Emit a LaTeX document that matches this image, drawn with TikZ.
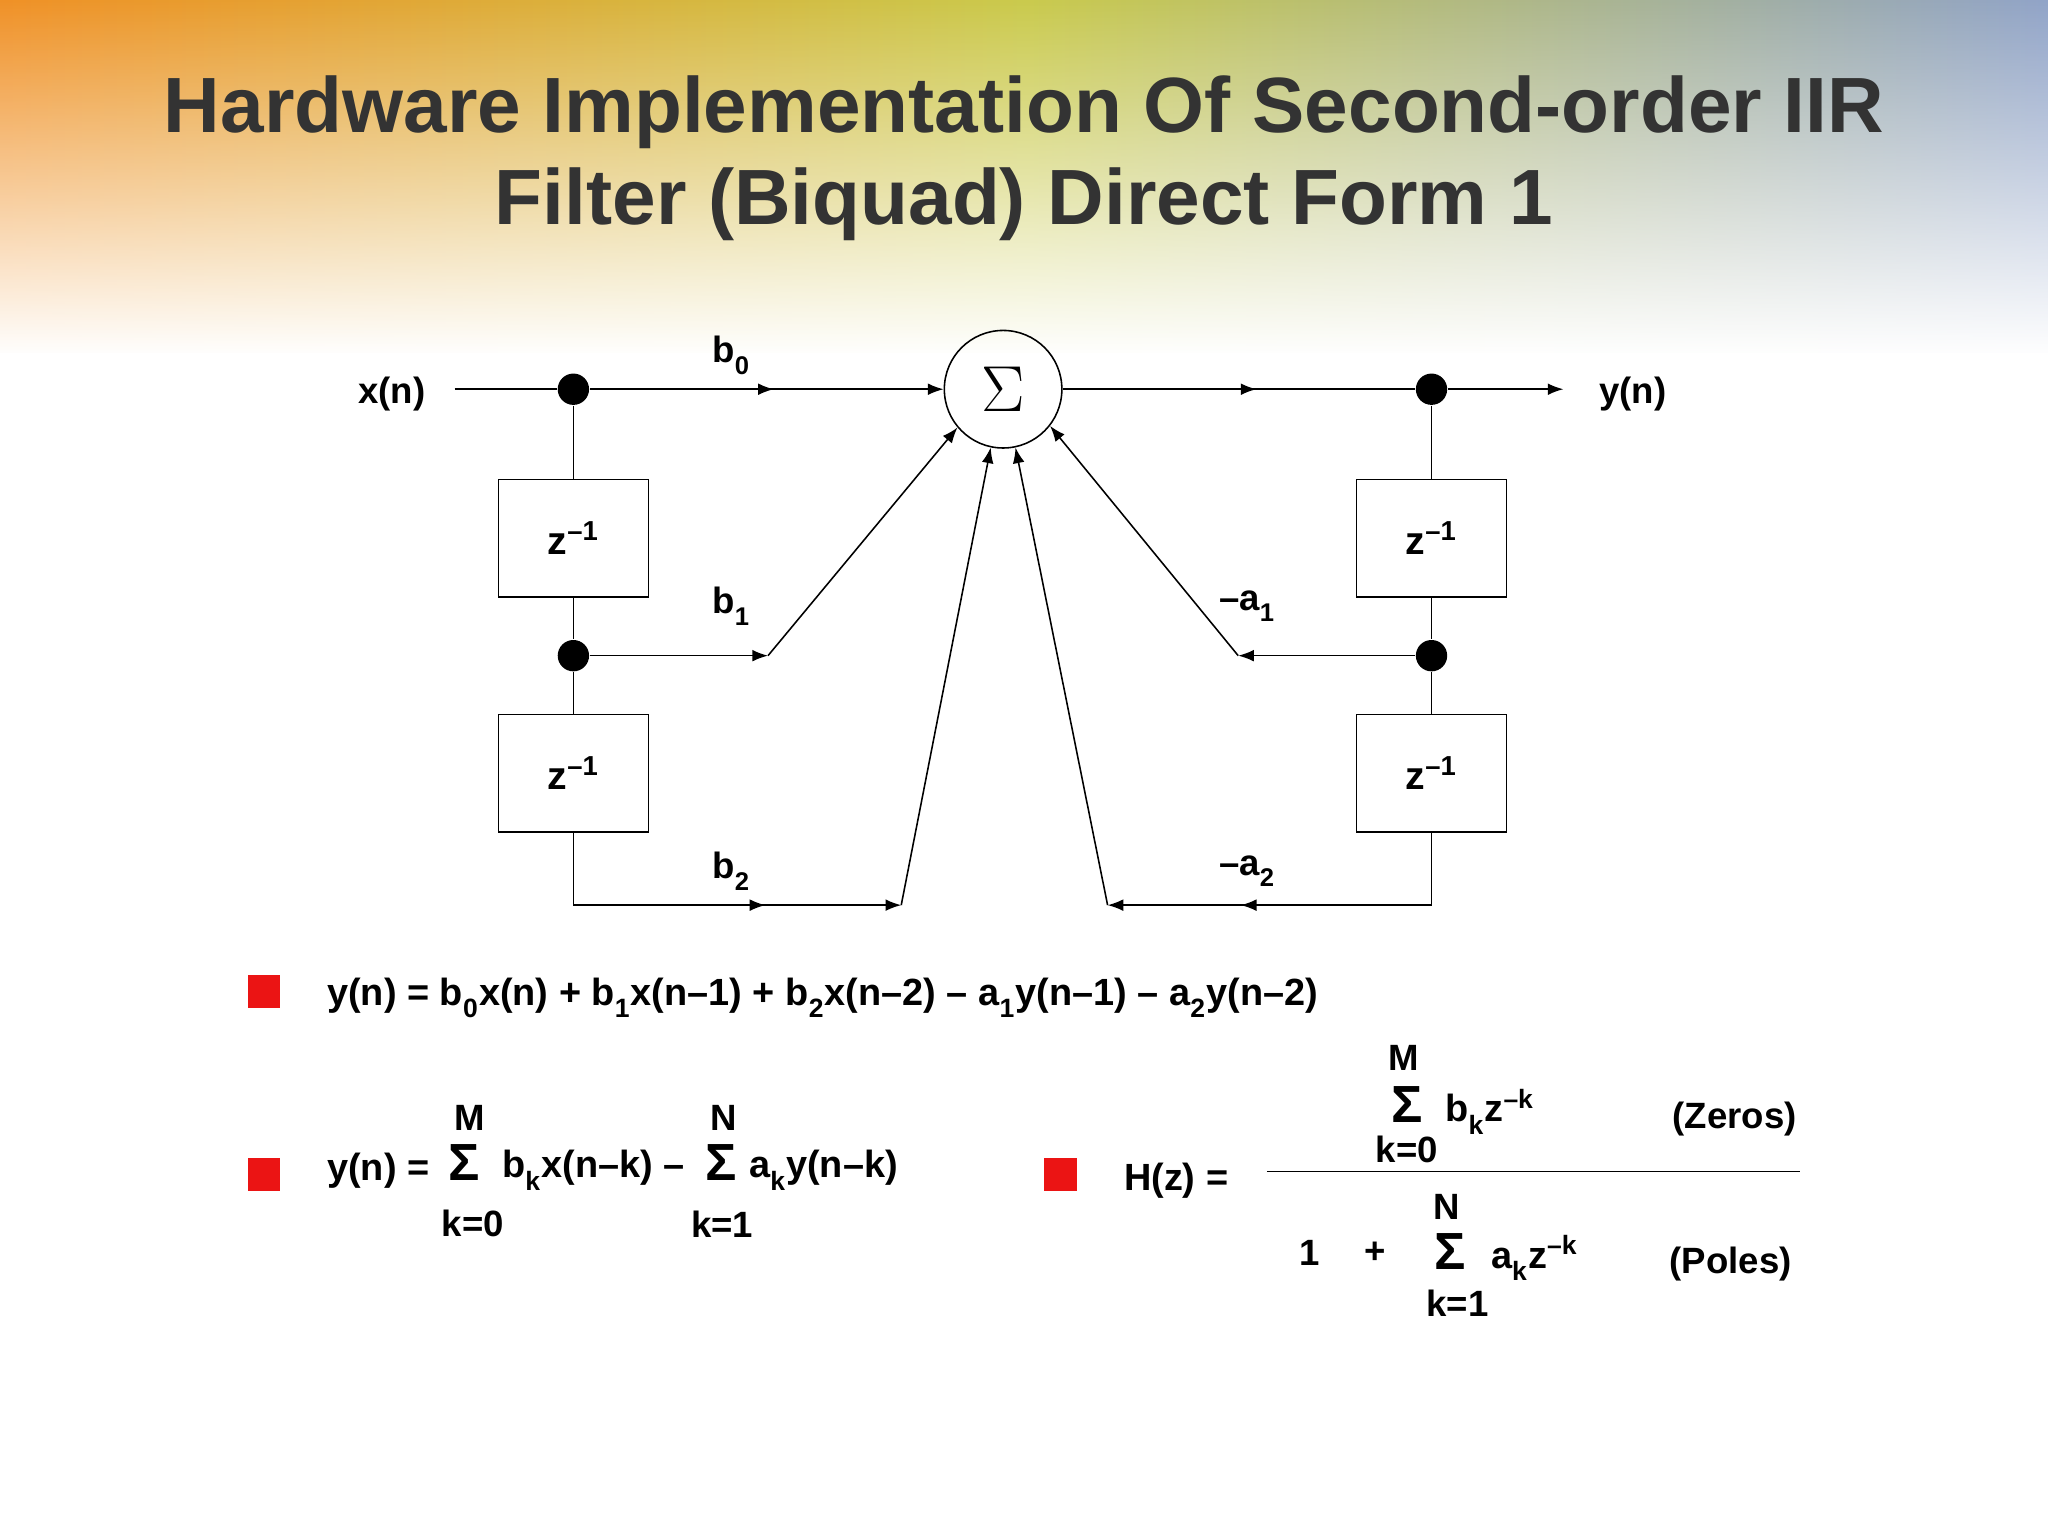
\documentclass[tikz,border=0pt]{standalone}
\usepackage{fontspec}
\setmainfont{Liberation Sans}
\usetikzlibrary{fadings,decorations.markings,arrows.meta}
\definecolor{titlegray}{RGB}{51,51,51}
\definecolor{bulletred}{RGB}{235,20,20}
\definecolor{bgorange}{RGB}{240,140,30}
\definecolor{bgyellow}{RGB}{200,200,70}
\definecolor{bgblue}{RGB}{140,160,200}
\newcommand{\sbs}[1]{\raisebox{-0.3ex}{\textsubscript{#1}}}
\newcommand{\sps}[1]{\textsuperscript{#1}}
\tikzset{every picture/.style={line width=0.6pt}}
\tikzset{
  tip/.tip={Latex[length=6pt,width=4.5pt]},
  dot/.style={circle,fill=black,inner sep=0pt,minimum size=12pt},
  delaybox/.style={draw,minimum width=57.5pt,minimum height=45pt,font=\bfseries\fontsize{15}{15}\selectfont},
  lbl/.style={font=\bfseries\fontsize{14}{14}\selectfont,inner sep=0pt},
  eqtext/.style={font=\bfseries\fontsize{14.5}{14.5}\selectfont,inner sep=0pt,anchor=west},
  sigm/.style={font=\bfseries\fontsize{20}{20}\selectfont,inner sep=0pt},
  midarrow/.style={postaction={decorate},decoration={markings,mark=at position #1 with {\arrow{tip}}}},
  bullet/.style={fill=bulletred,minimum size=12.5pt,inner sep=0pt}
}
\begin{document}
\begin{tikzpicture}[x=0.5pt,y=0.5pt,yscale=-1]
    \useasboundingbox (0,0) rectangle (1568,1176);
    % background
    \begin{scope}
    \clip (0,0) rectangle (1568,1176);
    \shade[left color=bgorange,right color=bgblue,middle color=bgyellow] (-10,-10) rectangle (1580,270);
    \fill[white,path fading=north] (-10,-10) rectangle (1580,272);
    \fill[white] (-10,270) rectangle (1580,1190);
    \end{scope}
    % title
    \node[font=\bfseries\fontsize{30}{35}\selectfont,text=titlegray,align=center] (title) at (784,121) {Hardware Implementation Of Second-order IIR\\Filter (Biquad) Direct Form 1};

    % summer and nodes
    \node[draw,circle,minimum size=45pt,inner sep=0pt,font=\fontsize{24}{24}\selectfont] (sum) at (768,298) {$\Sigma$};
    \node[lbl] (xn) at (300,302) {x(n)};
    \node[lbl] (yn) at (1250,302) {y(n)};
    \coordinate (xin) at (348,298);
    \coordinate (yout) at (1197,298);
    \node[dot] (dl0) at (439,298) {};
    \node[dot] (dl1) at (439,502) {};
    \node[dot] (dr0) at (1096,298) {};
    \node[dot] (dr1) at (1096,502) {};
    \node[delaybox] (zl1) at (439,412) {z\sps{–1}};
    \node[delaybox] (zl2) at (439,592) {z\sps{–1}};
    \node[delaybox] (zr1) at (1096,412) {z\sps{–1}};
    \node[delaybox] (zr2) at (1096,592) {z\sps{–1}};
    \coordinate (bl2) at (439,693);
    \coordinate (br2) at (1096,693);
    \coordinate (k1) at (588,502);
    \coordinate (k2) at (690,693);
    \coordinate (k3) at (948,502);
    \coordinate (k4) at (848,693);

    % connectors
    \draw (xin) -- (dl0);
    \draw[midarrow=0.52,-tip] (dl0) -- (sum.west);
    \draw (dl0) -- (zl1) -- (dl1) -- (zl2) -- (bl2);
    \draw[-tip] (dl1) -- (k1);
    \draw[-tip] (k1) -- (sum.220);
    \draw[-tip] (bl2) -- (k2);
    \draw[-tip] (bl2) -- (586,693);
    \draw[-tip] (k2) -- (sum.258);
    \draw[midarrow=0.55] (sum.east) -- (dr0);
    \draw[-tip] (dr0) -- (yout);
    \draw (dr0) -- (zr1) -- (dr1) -- (zr2) -- (br2);
    \draw[-tip] (dr1) -- (k3);
    \draw[-tip] (k3) -- (sum.322);
    \draw[-tip] (br2) -- (k4);
    \draw[-tip] (br2) -- (950,693);
    \draw[-tip] (k4) -- (sum.282);

    % coefficient labels
    \node[lbl] (b0) at (560,272) {b\sbs{0}};
    \node[lbl] (b1) at (560,464) {b\sbs{1}};
    \node[lbl] (b2) at (560,667) {b\sbs{2}};
    \node[lbl] (a1) at (955,464) {–a\sbs{1}};
    \node[lbl] (a2) at (955,667) {–a\sbs{2}};

    % equations
    \node[bullet] (q1) at (202,759) {};
    \node[bullet] (q2) at (202,899) {};
    \node[bullet] (q3) at (812,899) {};
    \node[eqtext] (eq1) at (250,764) {y(n) = b\sbs{0}x(n) + b\sbs{1}x(n–1) + b\sbs{2}x(n–2) – a\sbs{1}y(n–1) – a\sbs{2}y(n–2)};
    \node[eqtext] (eq2a) at (250,896) {y(n) =};
    \node[sigm] (s1) at (355,890) {Σ};
    \node[lbl] (s1t) at (360,856) {M};
    \node[lbl] (s1b) at (362,937) {k=0};
    \node[eqtext] (eq2b) at (384,896) {b\sbs{k}x(n–k) –};
    \node[sigm] (s2) at (552,890) {Σ};
    \node[lbl] (s2t) at (554,856) {N};
    \node[lbl] (s2b) at (553,937) {k=1};
    \node[eqtext] (eq2c) at (573,896) {a\sbs{k}y(n–k)};
    \node[eqtext] (hz) at (860,904) {H(z) =};
    \draw (970,897) -- (1378,897);
    \node[lbl] (nt) at (1075,810) {M};
    \node[sigm] (ns) at (1077,846) {Σ};
    \node[lbl] (nb) at (1077,880) {k=0};
    \node[eqtext] (nb1) at (1106,851) {b\sbs{k}z\sps{–k}};
    \node[lbl] (zeros) at (1328,857) {(Zeros)};
    \node[lbl] (one) at (1003,959) {1};
    \node[lbl] (plus) at (1053,959) {+};
    \node[lbl] (dt) at (1108,924) {N};
    \node[sigm] (ds) at (1110,958) {Σ};
    \node[lbl] (db) at (1116,998) {k=1};
    \node[eqtext] (da) at (1141,963) {a\sbs{k}z\sps{–k}};
    \node[lbl] (poles) at (1325,968) {(Poles)};
\end{tikzpicture}
\end{document}
